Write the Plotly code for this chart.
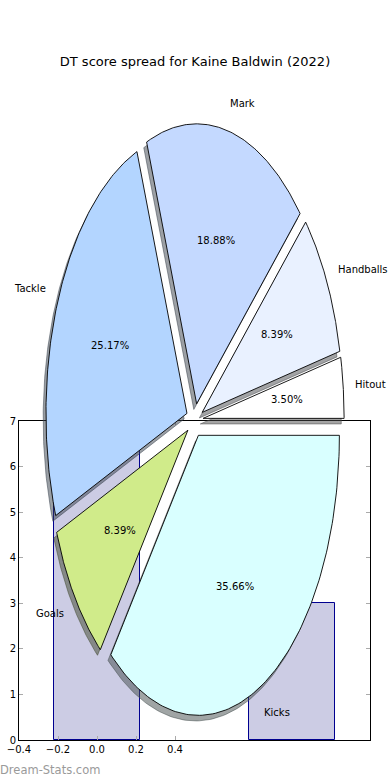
import numpy as np
import plotly.graph_objects as go

# ---------------- data ----------------
chart_title = "DT score spread for Kaine Baldwin (2022)"
slice_labels = ["Hitout", "Handballs", "Mark", "Tackle", "Goals", "Kicks"]
slice_pct = [3.50, 8.39, 18.88, 25.17, 8.39, 35.66]
slice_colors = ["#ffffff", "#e9f1ff", "#c4d9ff", "#b3d5ff", "#d0eb8a", "#d9ffff"]
slice_explode = [0.06, 0.06, 0.06, 0.06, 0.06, 0.06]

bar_x = [0, 1]
bar_heights = [7, 3]
x_tick_vals = [-0.4, -0.2, 0.0, 0.2, 0.4]
x_tick_text = ["\u22120.4", "\u22120.2", "0.0", "0.2", "0.4"]
y_tick_vals = [0, 1, 2, 3, 4, 5, 6, 7]
watermark = "Dream-Stats.com"

# ---------------- layout geometry ----------------
W, H = 390, 780
FONT = "DejaVu Sans"
# bar axes box (pixels)
ax_l, ax_r, ax_t, ax_b = 19, 370, 421, 740
# pie placement (pixels): centre and radii of the (stretched) pie
pcx, pcy, prx, pry = 194.7, 420.2, 141.0, 280.0
x2_range = [-pcx / prx, (W - pcx) / prx]
y2_range = [-(H - pcy) / pry, pcy / pry]

fig = go.Figure()

# ---------------- bars ----------------
fig.add_trace(go.Bar(
    x=bar_x, y=bar_heights, width=0.445,
    marker=dict(color="#ccccE4", line=dict(color="#000090", width=1)),
    xaxis="x", yaxis="y", hoverinfo="skip", showlegend=False,
))

# ---------------- pie (drawn as stretched wedges) ----------------
total = sum(slice_pct)
angles = np.concatenate([[0], np.cumsum(slice_pct) / total * 360.0])

def wedge(t1, t2, cx, cy):
    th = np.radians(np.linspace(t1, t2, 120))
    xs = np.concatenate([[cx], cx + np.cos(th), [cx]])
    ys = np.concatenate([[cy], cy + np.sin(th), [cy]])
    return xs, ys

def hex_rgb(h):
    h = h.lstrip("#")
    return tuple(int(h[i:i + 2], 16) for i in (0, 2, 4))

centres = []
for i in range(len(slice_pct)):
    t1, t2 = angles[i], angles[i + 1]
    tm = np.radians((t1 + t2) / 2)
    centres.append((slice_explode[i] * np.cos(tm), slice_explode[i] * np.sin(tm), tm))

# shadows first
for i in range(len(slice_pct)):
    cx, cy, _ = centres[i]
    xs, ys = wedge(angles[i], angles[i + 1], cx - 0.02, cy - 0.02)
    r, g, b = hex_rgb(slice_colors[i])
    sc = f"rgba({int(0.3*r)},{int(0.3*g)},{int(0.3*b)},0.5)"
    fig.add_trace(go.Scatter(
        x=xs, y=ys, mode="lines", fill="toself", fillcolor=sc,
        line=dict(color=sc, width=1), xaxis="x2", yaxis="y2",
        hoverinfo="skip", showlegend=False))

# wedges
for i in range(len(slice_pct)):
    cx, cy, _ = centres[i]
    xs, ys = wedge(angles[i], angles[i + 1], cx, cy)
    fig.add_trace(go.Scatter(
        x=xs, y=ys, mode="lines", fill="toself", fillcolor=slice_colors[i],
        line=dict(color="black", width=0.9), xaxis="x2", yaxis="y2",
        hoverinfo="skip", showlegend=False))

annotations = []
for i in range(len(slice_pct)):
    cx, cy, tm = centres[i]
    lx, ly = cx + 1.1 * np.cos(tm), cy + 1.1 * np.sin(tm)
    left = lx > 0
    annotations.append(dict(
        x=lx, y=ly, xref="x2", yref="y2", text=slice_labels[i], showarrow=False,
        xanchor="left" if left else "right", yanchor="middle",
        xshift=-2 if left else 1,
        borderpad=0, borderwidth=0,
        font=dict(family=FONT, size=10, color="black")))
    px, py = cx + 0.6 * np.cos(tm), cy + 0.6 * np.sin(tm)
    annotations.append(dict(
        x=px, y=py, xref="x2", yref="y2", text=f"{slice_pct[i]:.2f}%", showarrow=False,
        xanchor="center", yanchor="middle", borderpad=0, borderwidth=0,
        font=dict(family=FONT, size=10, color="black")))

annotations.append(dict(
    x=0.0, y=1 - 770 / H, xref="paper", yref="paper", text=watermark,
    showarrow=False, xanchor="left", yanchor="middle", borderpad=0, borderwidth=0,
    font=dict(family=FONT, size=11.5, color="#9a9a9a")))

fig.update_layout(
    width=W, height=H, autosize=False,
    margin=dict(l=0, r=0, t=0, b=0, pad=0),
    paper_bgcolor="white", plot_bgcolor="rgba(0,0,0,0)",
    showlegend=False, bargap=0,
    title=dict(text=chart_title, x=0.5, xanchor="center", y=1 - 61 / H, yanchor="middle",
               font=dict(family=FONT, size=13, color="black")),
    font=dict(family=FONT, size=10, color="black"),
    annotations=annotations,
    xaxis=dict(
        domain=[ax_l / W, ax_r / W], range=[-0.4, 1.4], automargin=False,
        tickvals=x_tick_vals, ticktext=x_tick_text,
        ticks="inside", ticklen=4, tickcolor="#aaaaaa", tickwidth=1,
        showline=True, linecolor="black", linewidth=1, mirror="ticks",
        showgrid=False, zeroline=False, fixedrange=True,
        tickfont=dict(family=FONT, size=10, color="black"),
    ),
    yaxis=dict(
        domain=[(H - ax_b) / H, (H - ax_t) / H], range=[0, 7], automargin=False,
        tickvals=y_tick_vals,
        ticks="inside", ticklen=4, tickcolor="#aaaaaa", tickwidth=1,
        showline=True, linecolor="black", linewidth=1, mirror="ticks",
        showgrid=False, zeroline=False, fixedrange=True,
        tickfont=dict(family=FONT, size=10, color="black"),
    ),
    xaxis2=dict(domain=[0, 1], range=x2_range, visible=False, fixedrange=True,
                anchor="y2", automargin=False),
    yaxis2=dict(domain=[0, 1], range=y2_range, visible=False, fixedrange=True,
                anchor="x2", automargin=False),
)

fig.write_html(
    "out.html",
    config={"displayModeBar": False},
    post_script="document.body.style.margin='0';document.body.style.overflow='hidden';",
)
